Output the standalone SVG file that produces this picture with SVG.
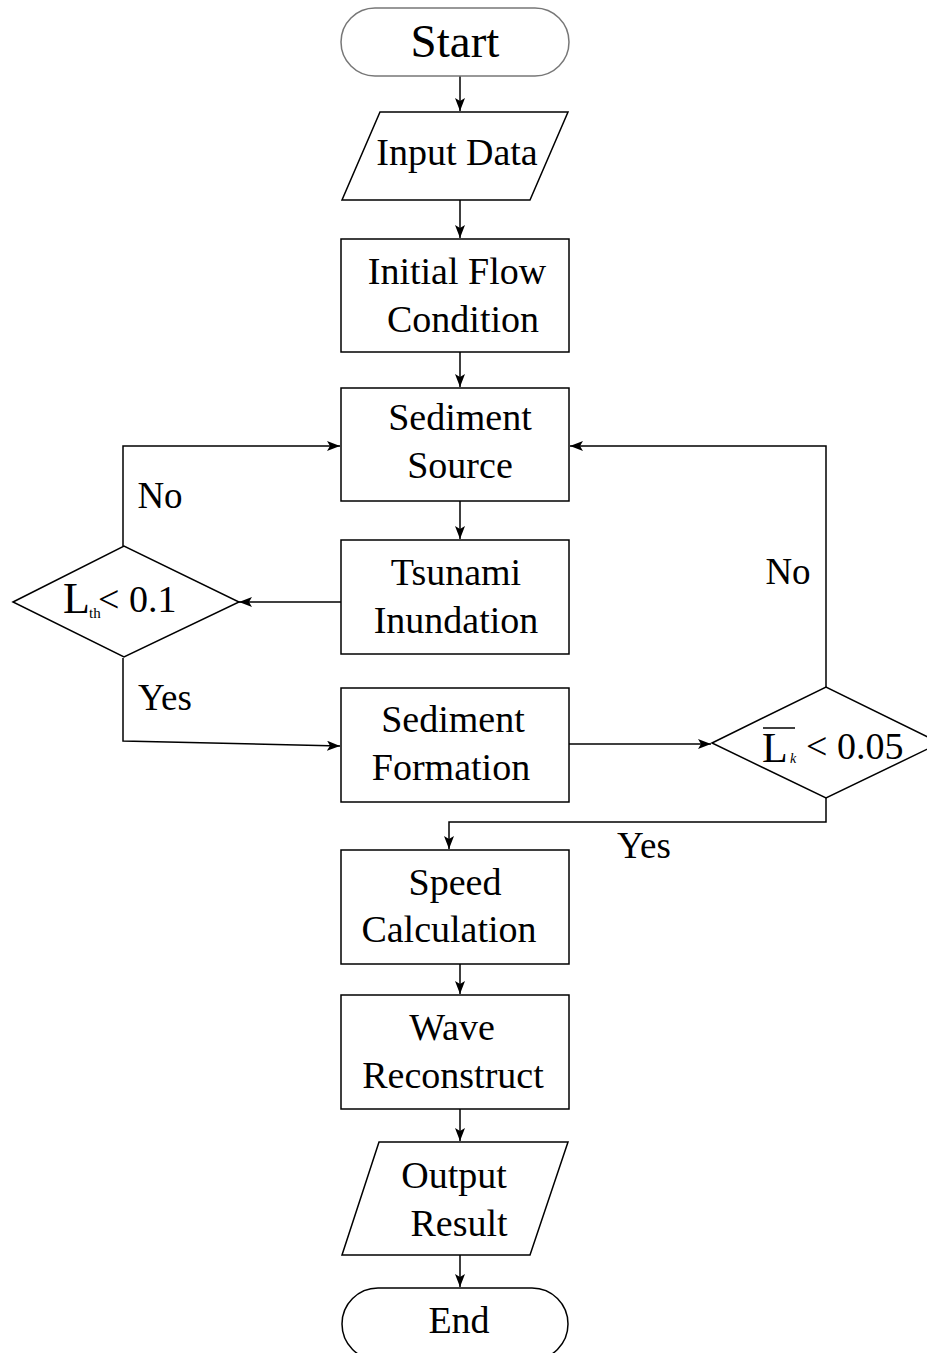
<svg xmlns="http://www.w3.org/2000/svg" width="927" height="1353" viewBox="0 0 927 1353">
<style>
.n{fill:#fff;stroke:#000;stroke-width:1.5}
text{font-family:"Liberation Serif","Times New Roman","DejaVu Serif",serif;fill:#000}
.t{font-size:38px;text-anchor:middle}
.l{font-size:37px;text-anchor:middle}
.c{fill:none;stroke:#000;stroke-width:1.5;marker-end:url(#a)}
</style>
<defs>
<marker id="a" viewBox="0 0 13 10" refX="13" refY="5" markerWidth="13" markerHeight="10" orient="auto" markerUnits="userSpaceOnUse">
<path d="M0,0 L13,5 L0,10 L3,5 z" fill="#000"/>
</marker>
</defs>
<rect width="927" height="1353" fill="#fff"/>
<g id="connectors">
<path class="c" d="M460,76 V111"/>
<path class="c" d="M460,200 V238"/>
<path class="c" d="M460,352 V387"/>
<path class="c" d="M460,501 V539"/>
<path class="c" d="M341,602 H239"/>
<path class="c" d="M123,546 V446 H340"/>
<path class="c" d="M123,658 V741 L340,746"/>
<path class="c" d="M569,744 H711"/>
<path class="c" d="M826,687 V446 H570"/>
<path class="c" d="M826,798 V822 H449 V849"/>
<path class="c" d="M460,964 V994"/>
<path class="c" d="M460,1109 V1141"/>
<path class="c" d="M460,1255 V1287"/>
</g>
<g id="start">
<rect x="341" y="8" width="228" height="68" rx="34" fill="#fff" stroke="#777" stroke-width="1.5"/>
<text x="455" y="57" style="font-size:47px;text-anchor:middle">Start</text>
</g>
<g id="input">
<polygon class="n" points="380,112 568,112 530,200 342,200"/>
<text class="t" x="457" y="165">Input Data</text>
</g>
<g id="initial">
<rect class="n" x="341" y="239" width="228" height="113"/>
<text class="t" x="457" y="284">Initial Flow</text>
<text class="t" x="463" y="332">Condition</text>
</g>
<g id="source">
<rect class="n" x="341" y="388" width="228" height="113"/>
<text class="t" x="460" y="430">Sediment</text>
<text class="t" x="460" y="478">Source</text>
</g>
<g id="tsunami">
<rect class="n" x="341" y="540" width="228" height="114"/>
<text class="t" x="456" y="585">Tsunami</text>
<text class="t" x="456" y="633">Inundation</text>
</g>
<g id="formation">
<rect class="n" x="341" y="688" width="228" height="114"/>
<text class="t" x="453" y="732">Sediment</text>
<text class="t" x="451" y="780">Formation</text>
</g>
<g id="speed">
<rect class="n" x="341" y="850" width="228" height="114"/>
<text class="t" x="455" y="895">Speed</text>
<text class="t" x="449" y="942">Calculation</text>
</g>
<g id="wave">
<rect class="n" x="341" y="995" width="228" height="114"/>
<text class="t" x="452" y="1040">Wave</text>
<text class="t" x="453" y="1088">Reconstruct</text>
</g>
<g id="output">
<polygon class="n" points="379,1142 568,1142 530,1255 342,1255"/>
<text class="t" x="454" y="1188">Output</text>
<text class="t" x="459" y="1236">Result</text>
</g>
<g id="end">
<rect class="n" x="342" y="1288" width="226" height="72" rx="36"/>
<text class="t" x="459" y="1333">End</text>
</g>
<g id="dec1">
<polygon class="n" points="13,602 124,546 239,602 124,657"/>
<text x="63" y="613" font-size="44">L</text>
<text x="89" y="618" font-size="15">th</text>
<text x="98" y="612" font-size="38">&lt; 0.1</text>
</g>
<g id="dec2">
<polygon class="n" points="712,743 826,687 940,743 826,798"/>
<line x1="763" y1="728" x2="795" y2="728" stroke="#000" stroke-width="1.5"/>
<text x="762" y="762" font-size="42">L</text>
<text x="790" y="763" font-size="14" font-style="italic">k</text>
<text x="806" y="759" font-size="38">&lt; 0.05</text>
</g>
<g id="labels">
<text class="l" x="160" y="508">No</text>
<text class="l" x="165" y="710">Yes</text>
<text class="l" x="788" y="584">No</text>
<text class="l" x="644" y="858">Yes</text>
</g>
</svg>
